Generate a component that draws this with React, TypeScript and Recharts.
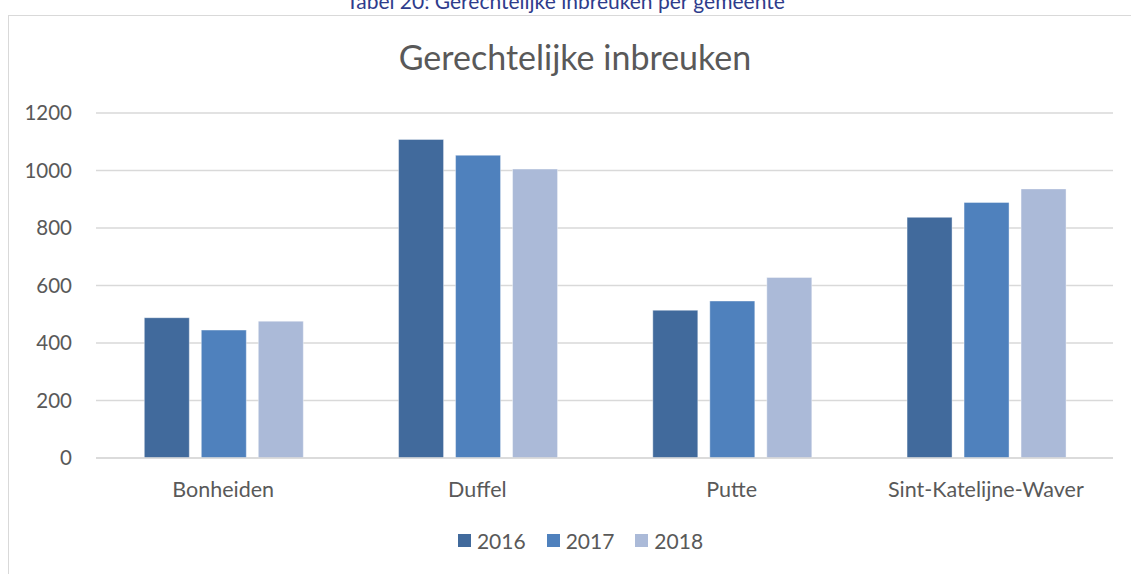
import {
  BarChart,
  Bar,
  XAxis,
  YAxis,
  CartesianGrid,
  Legend,
} from "recharts";

const gemeenten = ["Bonheiden", "Duffel", "Putte", "Sint-Katelijne-Waver"];
const jaar2016 = [488, 1108, 514, 837];
const jaar2017 = [445, 1053, 546, 889];
const jaar2018 = [476, 1005, 628, 936];
const yTicks = [0, 200, 400, 600, 800, 1000, 1200];

const series = [
  { key: "2016", color: "#416A9C" },
  { key: "2017", color: "#4F81BD" },
  { key: "2018", color: "#ABBAD8" },
];

const data = gemeenten.map((naam, i) => ({
  naam,
  "2016": jaar2016[i],
  "2017": jaar2017[i],
  "2018": jaar2018[i],
}));

const font = "Lato, 'Noto Sans', sans-serif";

function LegendBox() {
  return (
    <div
      style={{
        display: "flex",
        justifyContent: "center",
        gap: 21,
        fontFamily: font,
        fontSize: 21,
        color: "#595959",
        paddingLeft: 30,
      }}
    >
      {series.map((s) => (
        <div key={s.key} style={{ display: "flex", alignItems: "center", gap: 6 }}>
          <span style={{ width: 13, height: 13, background: s.color, display: "inline-block" }} />
          <span>{s.key}</span>
        </div>
      ))}
    </div>
  );
}

export default function App() {
  return (
    <div
      style={{
        position: "absolute",
        left: 0,
        top: 0,
        width: 1131,
        height: 574,
        overflow: "hidden",
        background: "#fff",
      }}
    >
      <div
        style={{
          position: "absolute",
          top: -11,
          left: 0,
          width: 1131,
          textAlign: "center",
          fontFamily: font,
          fontSize: 21,
          color: "#2E3C8C",
          lineHeight: "24px",
        }}
      >
        Tabel 20: Gerechtelijke inbreuken per gemeente
      </div>
      <div
        style={{
          position: "absolute",
          left: 8,
          top: 15,
          width: 1160,
          height: 600,
          border: "1.5px solid #d9d9d9",
        }}
      />
      <div
        style={{
          position: "absolute",
          top: 36,
          left: 0,
          width: 1150,
          textAlign: "center",
          fontFamily: font,
          fontSize: 34,
          color: "#595959",
        }}
      >
        Gerechtelijke inbreuken
      </div>
      <div style={{ position: "absolute", left: 0, top: 0 }}>
        <BarChart
          width={1131}
          height={574}
          data={data}
          margin={{ top: 113, right: 18, bottom: 41, left: 16 }}
          barGap={12}
          barCategoryGap="19%"
        >
          <CartesianGrid vertical={false} stroke="#d9d9d9" strokeWidth={1.5} />
          <XAxis
            dataKey="naam"
            axisLine={{ stroke: "#d9d9d9", strokeWidth: 1.5 }}
            tickLine={false}
            height={50}
            tickMargin={18}
            tick={{ fill: "#595959", fontSize: 21.5, fontFamily: font }}
          />
          <YAxis
            width={80}
            domain={[0, 1200]}
            ticks={yTicks}
            axisLine={false}
            tickLine={false}
            tickMargin={18}
            tick={{ fill: "#595959", fontSize: 20.5, fontFamily: font }}
          />
          <Legend
            content={() => <LegendBox />}
            wrapperStyle={{ position: "absolute", top: 528, left: 0, width: 1131 }}
          />
          {series.map((s) => (
            <Bar
              key={s.key}
              dataKey={s.key}
              fill={s.color}
              stroke="#ffffff"
              strokeOpacity={0.4}
              isAnimationActive={false}
            />
          ))}
        </BarChart>
      </div>
    </div>
  );
}
